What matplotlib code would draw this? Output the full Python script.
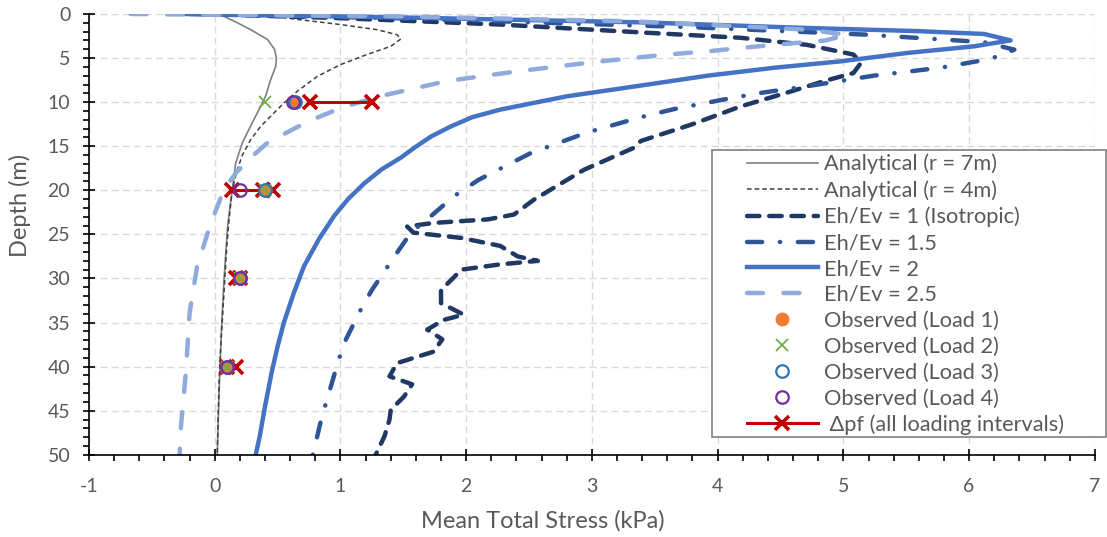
import numpy as np
import matplotlib
matplotlib.use("Agg")
import matplotlib.pyplot as plt
from matplotlib.patches import Rectangle

plt.rcParams['font.family'] = ['Lato', 'DejaVu Sans']
plt.rcParams['axes.unicode_minus'] = False

# analytical solutions (mean total stress kPa, depth m)
ana7_x = [0.05, 0.074, 0.18, 0.286, 0.42, 0.477, 0.49, 0.485, 0.445, 0.405, 0.352, 0.286, 0.22,
          0.167, 0.14, 0.12, 0.10, 0.074, 0.053, 0.04, 0.03, 0.02]
ana7_d = [0, 0.27, 1.0, 1.78, 2.9, 4.05, 5.0, 5.94, 7.45, 9.3, 10.85, 12.7, 14.6,
          16.9, 19.9, 22.0, 24.5, 30.1, 35.8, 40.7, 45.0, 50]

ana4_x = [0.05, 0.56, 1.0, 1.29, 1.45, 1.48, 1.40, 1.21, 1.0, 0.817, 0.657, 0.55, 0.459,
          0.366, 0.286, 0.22, 0.18, 0.14, 0.114, 0.095, 0.08, 0.048, 0.035, 0.02]
ana4_d = [0, 0.45, 1.2, 1.78, 2.35, 2.84, 3.67, 4.6, 5.75, 7.07, 8.77, 10.1, 11.4,
          12.74, 14.25, 16.0, 17.65, 19.9, 23.3, 26.5, 30.1, 37.7, 41.5, 50]

# numerical models
iso_x = [-0.1, 0.95, 2.27, 3.4, 4.18, 4.71, 5.08, 5.14, 5.08, 4.85, 4.58, 4.18, 3.79, 3.39,
         3.33, 2.94, 2.54, 2.38, 2.17, 1.74, 1.53, 1.58, 1.96, 2.27, 2.41, 2.57, 2.27, 1.96,
         1.90, 1.80, 1.80, 1.98, 1.82, 1.69, 1.81, 1.74, 1.45, 1.39, 1.57, 1.505, 1.40, 1.39,
         1.35, 1.28]
iso_d = [0, 0.45, 1.2, 2.1, 2.7, 3.5, 4.6, 5.55, 6.7, 7.6, 8.8, 10.5, 12.55, 14.4,
         15.2, 17.65, 21.05, 22.75, 23.3, 23.7, 24.1, 24.8, 25.4, 26.3, 27.5, 28.0, 28.4, 29.0,
         29.9, 31.3, 32.8, 34.1, 34.7, 35.8, 36.9, 38.3, 39.6, 41.1, 42.0, 43.4, 44.9, 46.0,
         47.9, 50]

e15_x = [-0.2, 1.5, 3.79, 5.19, 6.12, 6.36, 6.17, 5.77, 5.24, 4.71, 4.32, 4.05, 3.65, 3.39,
         2.96, 2.51, 2.10, 1.90, 1.73, 1.56, 1.42, 1.25, 1.17, 1.03, 0.98, 0.90, 0.85, 0.79, 0.78]
e15_d = [0, 0.5, 1.5, 2.35, 3.2, 4.05, 5.1, 6.1, 7.0, 8.2, 9.0, 9.7, 10.8, 11.7,
         13.45, 15.8, 18.8, 20.7, 22.8, 24.8, 27.7, 31.3, 33.3, 37.3, 39.5, 43.4, 45.8, 49.4, 50]

e2_x = [-0.23, 1.5, 3.39, 4.71, 5.6, 6.12, 6.33, 6.04, 5.51, 4.98, 4.45, 3.92, 3.35, 2.8,
        2.27, 2.05, 1.88, 1.72, 1.585, 1.48, 1.33, 1.19, 1.06, 0.95, 0.83, 0.71, 0.63, 0.55,
        0.50, 0.455, 0.40, 0.358, 0.326]
e2_d = [0, 0.4, 0.95, 1.59, 1.95, 2.27, 3.0, 3.67, 4.42, 5.37, 6.1, 7.0, 8.2, 9.34,
        10.85, 11.7, 12.74, 13.9, 15.2, 16.3, 17.6, 19.2, 21.0, 22.9, 25.5, 28.6, 31.6, 35.0,
        37.7, 40.5, 44.5, 47.9, 50]

e25_x = [-0.67, -0.11, 1.48, 3.33, 4.18, 4.71, 5.03, 4.86, 4.45, 4.18, 3.92, 3.6, 3.39, 2.99,
         2.41, 1.85, 1.37, 1.03, 0.74, 0.42, 0.286, 0.17, 0.074, -0.03, -0.14, -0.2, -0.23,
         -0.27, -0.28]
e25_d = [0, 0.08, 0.27, 0.84, 1.4, 1.78, 2.35, 3.0, 3.5, 3.86, 4.24, 4.6, 4.9, 5.5,
         6.5, 7.6, 9.15, 10.5, 12.2, 14.6, 16.3, 18.0, 19.9, 23.7, 28.6, 33.9, 40.7,
         47, 50]

# observations
obs_d = [10, 20, 30, 40]
load1 = [0.63, 0.40, 0.20, 0.10]
load2 = [0.40, 0.40, 0.20, 0.10]
load3 = [0.64, 0.40, 0.20, 0.10]
load4 = [0.62, 0.20, 0.20, 0.10]

nan = np.nan
dpf_x = [0.755, 1.254, nan, 0.14, 0.38, 0.46, nan, 0.17, 0.20, nan, 0.10, 0.17]
dpf_d = [10, 10, nan, 20, 20, 20, nan, 30, 30, nan, 40, 40]

txt = '#595959'
fig = plt.figure(figsize=(11.07, 5.37), dpi=100)
ax = fig.add_axes([0.0804, 0.153, 0.9086, 0.821])

h = []
h += ax.plot(ana7_x, ana7_d, color='#808080', lw=1.2, label='Analytical (r = 7m)')
h += ax.plot(ana4_x, ana4_d, color='#404040', lw=1.1, dashes=(3, 2),
             label='Analytical (r = 4m)')
h += ax.plot(iso_x, iso_d, color='#203864', lw=3.2, dashes=(2.8, 2.2),
             dash_capstyle='round', label='Eh/Ev = 1 (Isotropic)')
h += ax.plot(e15_x, e15_d, color='#2F5597', lw=3.2, dashes=(3.4, 4.0, 0.05, 4.0),
             dash_capstyle='round', label='Eh/Ev = 1.5')
h += ax.plot(e2_x, e2_d, color='#4472C4', lw=3.2, label='Eh/Ev = 2')
h += ax.plot(e25_x, e25_d, color='#8FAADC', lw=3.2, dashes=(3.6, 4.6),
             dash_capstyle='round', label='Eh/Ev = 2.5')

dpf = ax.plot(dpf_x, dpf_d, color='#C00000', lw=2.2, marker='x', ms=10, mew=2.6,
              label=' \u0394pf (all loading intervals)', zorder=3)
h += ax.plot(load1, obs_d, ls='none', marker='o', ms=9, color='#ED7D31',
             label='Observed (Load 1)', zorder=4)
h += ax.plot(load2, obs_d, ls='none', marker='x', ms=9, mew=1.3, color='#70AD47',
             label='Observed (Load 2)', zorder=4)
h += ax.plot(load3, obs_d, ls='none', marker='o', ms=9, mew=1.6, mfc='none',
             color='#2E75B6', label='Observed (Load 3)', zorder=4)
h += ax.plot(load4, obs_d, ls='none', marker='o', ms=9, mew=1.6, mfc='none',
             color='#7030A0', label='Observed (Load 4)', zorder=4)
h += dpf

ax.set_xlim(-1, 7)
ax.set_ylim(50, 0)
ax.set_xticks(np.arange(-1, 8, 1))
ax.set_yticks(np.arange(0, 51, 5))
ax.set_xticks(np.arange(-1, 7.01, 0.2), minor=True)
ax.set_yticks(np.arange(0, 51, 1), minor=True)
ax.grid(True, which='major', color='#D9D9D9', lw=1.0, ls=(0, (5, 3)))
ax.set_axisbelow(True)

for s in ['top', 'right']:
    ax.spines[s].set_visible(False)
for s in ['left', 'bottom']:
    ax.spines[s].set_linewidth(1.2)
    ax.spines[s].set_color('black')

ax.tick_params(which='major', direction='inout', length=9, width=1.2, labelsize=14,
               labelcolor=txt)
ax.tick_params(axis='x', which='major', pad=12)
ax.tick_params(axis='y', which='major', pad=9)
ax.tick_params(which='minor', direction='out', length=4.5, width=1.2)

ax.set_xlabel('Mean Total Stress (kPa)', fontsize=17, color=txt)
ax.xaxis.set_label_coords(0.451, -0.125)
ax.text(-0.0686, 0.565, 'Depth (m)', transform=ax.transAxes, rotation=90,
        ha='center', va='center', fontsize=17, color=txt)

# legend box drawn separately so the handles can sit inset from the border
box = Rectangle((0.619, 0.041), 0.392, 0.651, transform=ax.transAxes, fill=True,
                facecolor='white', edgecolor='#808080', lw=1.2, clip_on=False, zorder=9)
ax.add_patch(box)
leg = ax.legend(handles=h, loc='upper left', bbox_to_anchor=(0.654, 0.683),
                fontsize=15.7, frameon=False, handlelength=3.25, handletextpad=0.3,
                labelspacing=0.27, borderpad=0, borderaxespad=0)
for t in leg.get_texts():
    t.set_color(txt)
leg.set_zorder(10)

fig.savefig('out.png', dpi=100)
